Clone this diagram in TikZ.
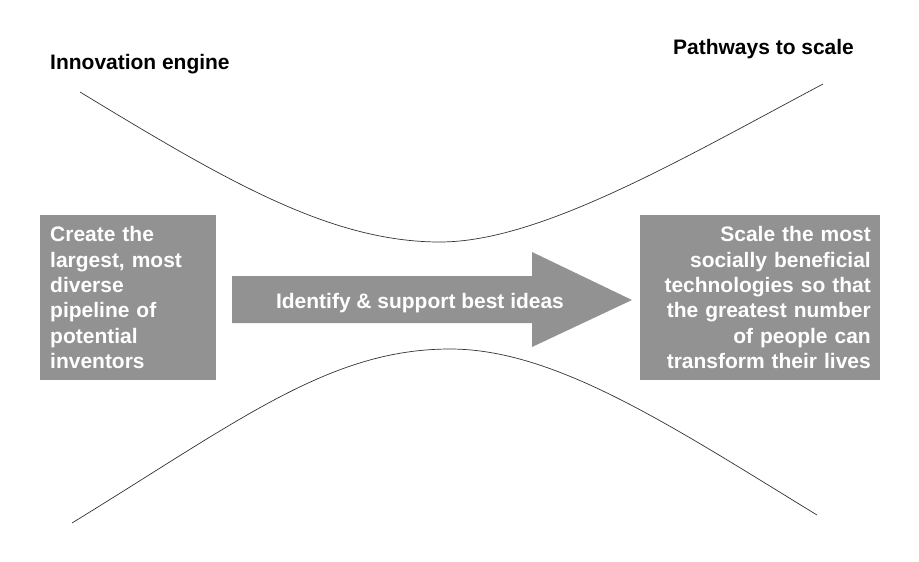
\documentclass[tikz,border=0pt]{standalone}
\usepackage{fontspec}
\setmainfont{Liberation Sans}
\usetikzlibrary{positioning}
\definecolor{boxgray}{RGB}{146,146,146}

\begin{document}
\begin{tikzpicture}[x=0.3mm,y=-0.3mm,
  every node/.style={font=\fontsize{17.9pt}{21.7pt}\selectfont\bfseries},
  heading/.style={anchor=base west,inner sep=0pt},
  graybox/.style={fill=boxgray,text=white,minimum height=49.5mm},
  funnel/.style={draw=black!80,line width=0.6pt}]
\useasboundingbox (0,0) rectangle (919,561);

% Headings
\node[heading] (engine) at (50,69) {Innovation engine};
\node[heading] (pathways) at (673,54) {Pathways to scale};

% Funnel curves
\draw[funnel] (80,92) .. controls (225,180) and (330,242) .. (440,242)
  .. controls (540,242) and (680,160) .. (823,84);
\draw[funnel] (72,523) .. controls (240,420) and (330,349) .. (450,349)
  .. controls (555,349) and (670,425) .. (817,515);

% Side boxes
\node[graybox,anchor=north west,inner xsep=3mm,text width=46.8mm,align=left] (inventors) at (40,215)
  {Create the\\largest, most\\diverse\\pipeline of\\potential\\inventors};
\node[graybox,anchor=north east,inner xsep=2.7mm,text width=66.6mm,align=right] (scaling) at (880,215)
  {Scale the most\\socially beneficial\\technologies so that\\the greatest number\\of people can\\transform their lives};

% Middle arrow
\fill[boxgray] (232,276) -- (532,276) -- (532,252) -- (632,300) -- (532,347) -- (532,323) -- (232,323) -- cycle;
\node[text=white,anchor=base,inner sep=0pt] (ideas) at (420,308) {Identify \& support best ideas};

\end{tikzpicture}
\end{document}
